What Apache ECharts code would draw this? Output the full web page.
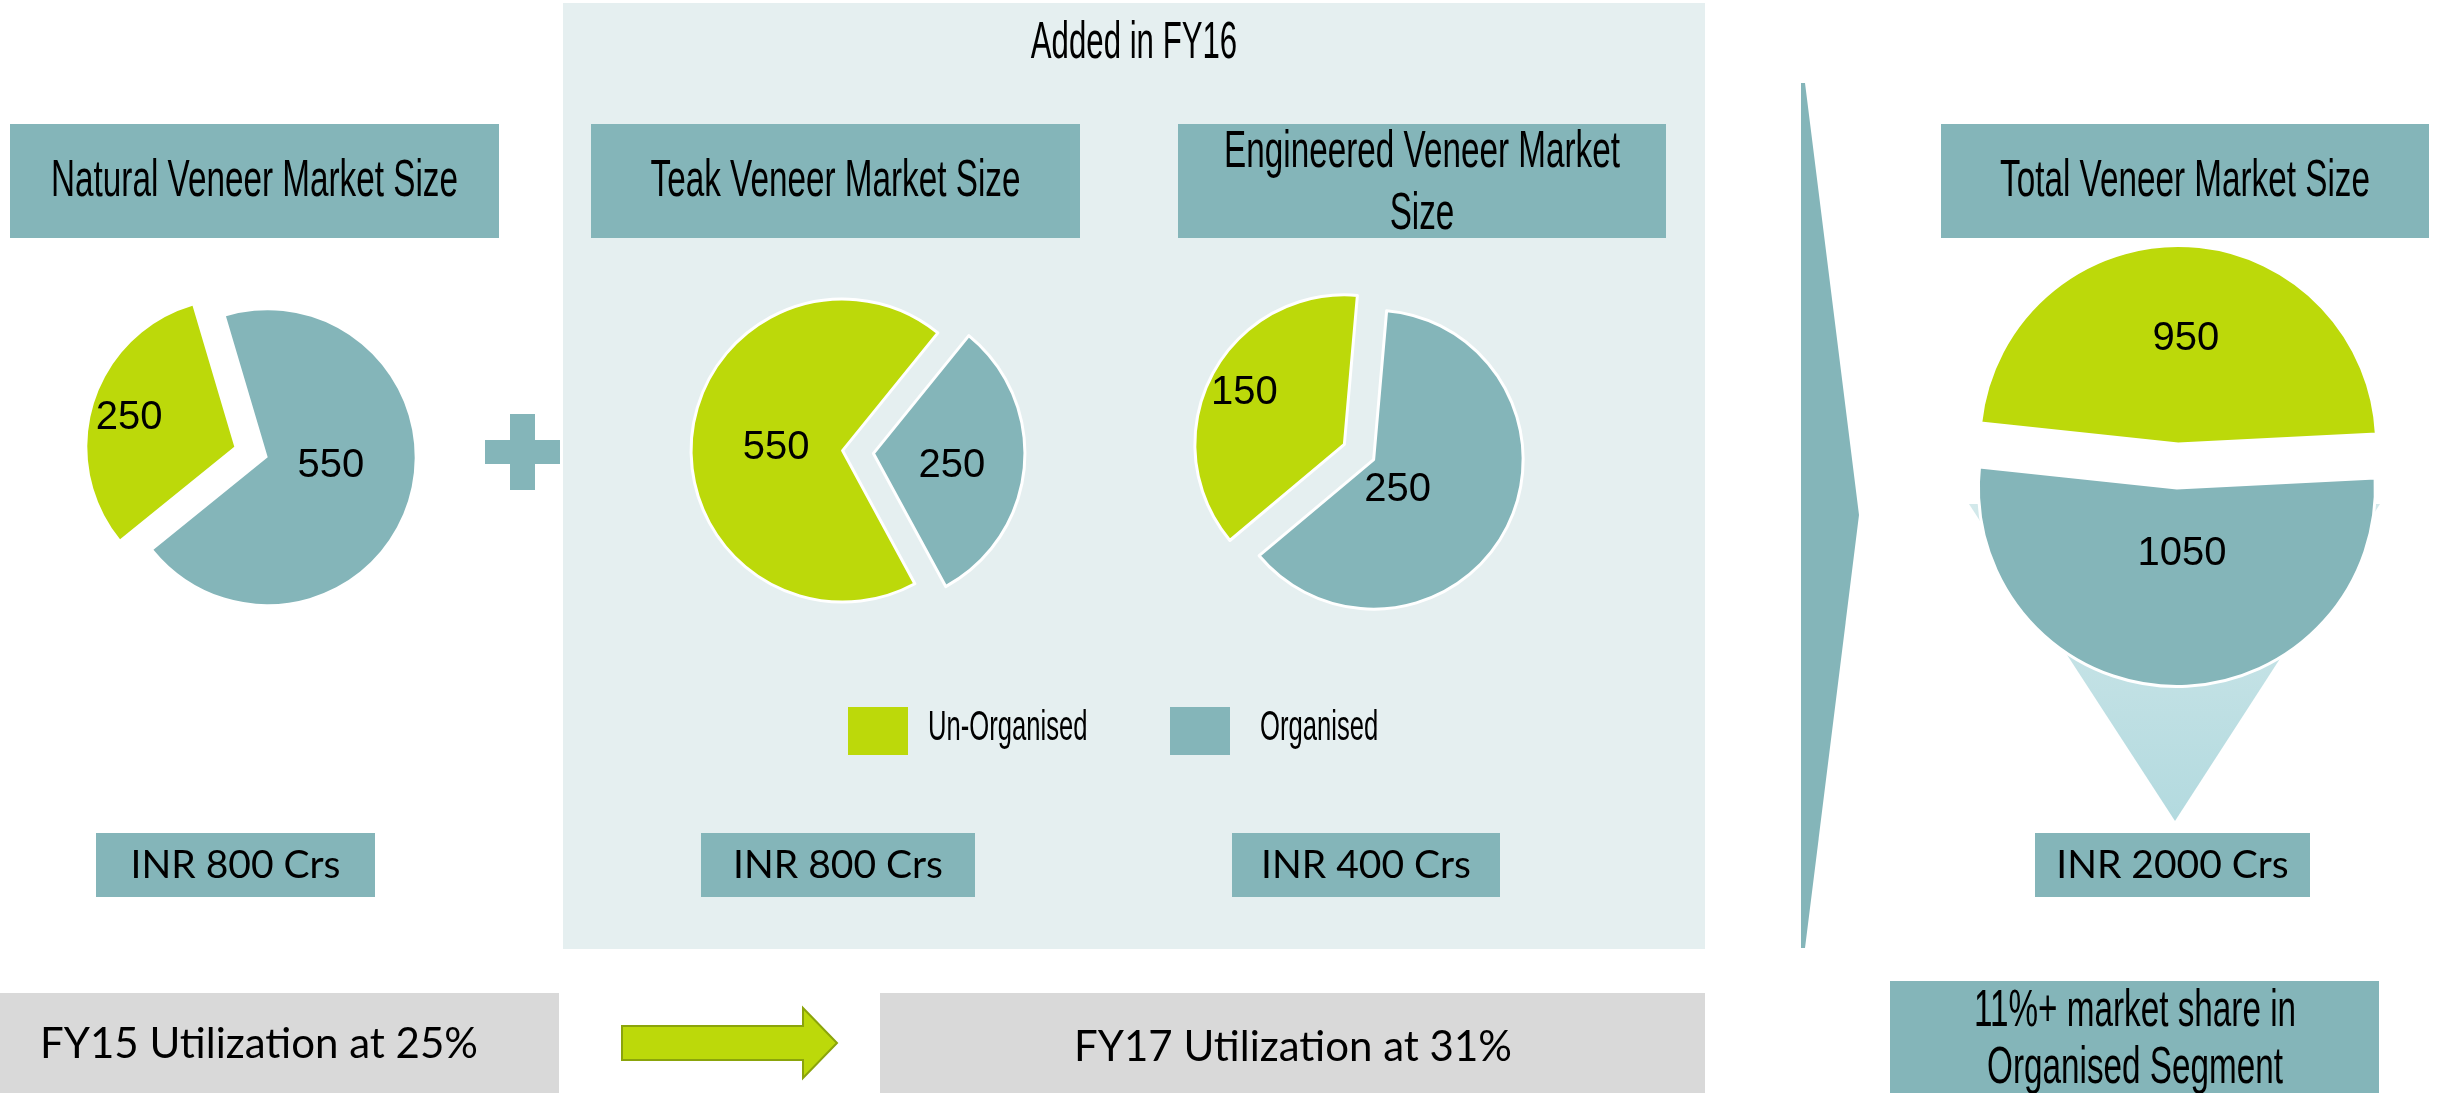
<!DOCTYPE html>
<html>
<head>
<meta charset="utf-8">
<script src="https://cdn.jsdelivr.net/npm/echarts@6/dist/echarts.min.js"></script>
<style>html,body{margin:0;padding:0;background:#fff;}#chart{width:2437px;height:1093px;}</style>
</head>
<body>
<div id="chart"></div>
<script>
// ---------------- data ----------------
const pieTitles = ['Natural Veneer Market Size', 'Teak Veneer Market Size', 'Engineered Veneer Market\nSize', 'Total Veneer Market Size'];
const segments = ['Organised', 'Un-Organised'];
const organised = [550, 250, 250, 1050];
const unorganised = [250, 550, 150, 950];
const marketSize = ['INR 800 Crs', 'INR 800 Crs', 'INR 400 Crs', 'INR 2000 Crs'];
const panelTitle = 'Added in FY16';
const utilisation = ['FY15 Utilization at 25%', 'FY17 Utilization at 31%'];
const shareNote = '11%+ market share in\nOrganised Segment';

// ---------------- style / layout ----------------
const TEAL = '#84b5b9', GREEN = '#bcd90a', PANEL = '#e5eff0', GREY = '#d9d9d9';
const COLORS = [TEAL, GREEN];
const WIDE = "'Liberation Sans', Arial, sans-serif";
const BODY = "Lato, 'Open Sans', sans-serif";
const SQUEEZE = 0.64;

const pieLayouts = [
  { center: [251, 452], radius: 147, startAngle: 106.5, explode: 17.5, border: 0, nudge: [[-10, -14], [-32, -6]] },
  { center: [858, 452], radius: 151.5, startAngle: 51, explode: 15.5, border: 3, nudge: [[0, 5], [12, 5]] },
  { center: [1359, 452], radius: 149.5, startAngle: 85, explode: 16.5, border: 3, nudge: [[-45, -6], [-31, -16]] },
  { center: [2177.5, 466], radius: 198.5, startAngle: 2.9, explode: 22, border: 3, nudge: [[8, -36], [5, -3]] }
];
const titleBoxes = [[10, 124, 489, 114], [591, 124, 489, 114], [1178, 124, 488, 114], [1941, 124, 488, 114]];
const inrBoxes = [[96, 833, 279, 64], [701, 833, 274, 64], [1232, 833, 268, 64], [2035, 833, 275, 64]];
const legendSpots = [{ icon: 848, text: 928 }, { icon: 1170, text: 1260 }];

// ---------------- series ----------------
const series = [];
pieLayouts.forEach((L, p) => {
  const values = [organised[p], unorganised[p]];
  const total = values[0] + values[1];
  let acc = 0;
  values.forEach((v, k) => {
    const mid = (L.startAngle - 360 * (acc + v / 2) / total) * Math.PI / 180;
    acc += v;
    const c = [L.center[0] + L.explode * Math.cos(mid), L.center[1] - L.explode * Math.sin(mid)];
    series.push({
      type: 'pie',
      center: c,
      radius: L.radius,
      startAngle: L.startAngle,
      clockwise: true,
      silent: true,
      animation: false,
      avoidLabelOverlap: false,
      emphasis: { disabled: true },
      labelLine: { show: false },
      z: 3,
      label: { position: 'inside', color: '#000', fontSize: 40, fontFamily: WIDE, formatter: '{c}' },
      labelLayout: () => ({ dx: L.nudge[k][0], dy: L.nudge[k][1] }),
      data: segments.map((name, j) => ({
        name: name,
        value: values[j],
        itemStyle: j === k
          ? { color: COLORS[j], borderColor: '#ffffff', borderWidth: L.border }
          : { color: 'rgba(0,0,0,0)', borderWidth: 0 },
        label: { show: j === k }
      }))
    });
  });
});

// ---------------- graphics ----------------
function rect(x, y, w, h, fill, z) {
  return { type: 'rect', silent: true, z: z || 0, shape: { x: x, y: y, width: w, height: h }, style: { fill: fill } };
}
function txt(text, x, y, size, family, scaleX, lineHeight, align) {
  const a = align || 'center';
  return {
    type: 'text', silent: true, z: 10, x: x, y: y, scaleX: scaleX || 1, scaleY: 1,
    style: {
      text: text, fill: '#000', fontSize: size, fontFamily: family,
      align: a, verticalAlign: 'middle', textAlign: a, textVerticalAlign: 'middle',
      lineHeight: lineHeight || Math.round(size * 1.2)
    }
  };
}

const graphics = [];
graphics.push(rect(563, 3, 1142, 946, PANEL, 0));
graphics.push(txt(panelTitle, 1134, 44, 52, WIDE, 0.6));
titleBoxes.forEach((b, i) => {
  graphics.push(rect(b[0], b[1], b[2], b[3], TEAL, 1));
  const multi = pieTitles[i].indexOf('\n') >= 0;
  graphics.push(txt(pieTitles[i], b[0] + b[2] / 2, b[1] + b[3] / 2 + (multi ? 3 : 1), 52, WIDE, SQUEEZE, 62));
});
inrBoxes.forEach((b, i) => {
  graphics.push(rect(b[0], b[1], b[2], b[3], TEAL, 1));
  graphics.push(txt(marketSize[i], b[0] + b[2] / 2, b[1] + b[3] / 2, 39, BODY, 1));
});
// legend labels (condensed)
graphics.push(txt(segments[1], legendSpots[0].text, 728, 42, WIDE, 0.61, 50, 'left'));
graphics.push(txt(segments[0], legendSpots[1].text, 728, 42, WIDE, 0.61, 50, 'left'));
// plus sign
graphics.push(rect(510, 414, 25, 76, TEAL, 1));
graphics.push(rect(485, 440, 75, 24, TEAL, 1));
// chevron
graphics.push({ type: 'polygon', silent: true, z: 1, shape: { points: [[1801, 83], [1805, 83], [1859, 515], [1805, 948], [1801, 948]] }, style: { fill: TEAL } });
// funnel triangle behind total pie
graphics.push({
  type: 'polygon', silent: true, z: 1,
  shape: { points: [[1969, 504], [2380, 504], [2175, 821]] },
  style: { fill: { type: 'linear', x: 0, y: 0, x2: 0, y2: 1, colorStops: [{ offset: 0, color: '#d3e9eb' }, { offset: 1, color: '#b3dadf' }] } }
});
// bottom row
graphics.push(rect(-41, 993, 600, 110, GREY, 1));
graphics.push(txt(utilisation[0], 259, 1044, 42, BODY, 1));
graphics.push({
  type: 'polygon', silent: true, z: 2,
  shape: { points: [[622, 1026], [803, 1026], [803, 1008], [837, 1043], [803, 1078], [803, 1060], [622, 1060]] },
  style: { fill: GREEN, stroke: '#8ba40b', lineWidth: 2 }
});
graphics.push(rect(880, 993, 825, 110, GREY, 1));
graphics.push(txt(utilisation[1], 1293, 1047, 42, BODY, 1));
graphics.push(rect(1890, 981, 489, 122, TEAL, 1));
graphics.push(txt(shareNote, 2135, 1040, 52, WIDE, SQUEEZE, 57));

const legendBase = {
  top: 707, padding: 0, itemWidth: 60, itemHeight: 48, icon: 'rect', selectedMode: false, z: 5,
  formatter: () => '',
  textStyle: { fontSize: 12, color: '#000' }
};

const option = {
  backgroundColor: '#ffffff',
  animation: false,
  legend: [
    Object.assign({}, legendBase, { left: legendSpots[0].icon, data: [{ name: segments[1], itemStyle: { color: GREEN, borderWidth: 0 } }] }),
    Object.assign({}, legendBase, { left: legendSpots[1].icon, data: [{ name: segments[0], itemStyle: { color: TEAL, borderWidth: 0 } }] })
  ],
  graphic: { elements: graphics },
  series: series
};

const chart = echarts.init(document.getElementById('chart'), null, { renderer: 'canvas' });
chart.setOption(option);
</script>
</body>
</html>
